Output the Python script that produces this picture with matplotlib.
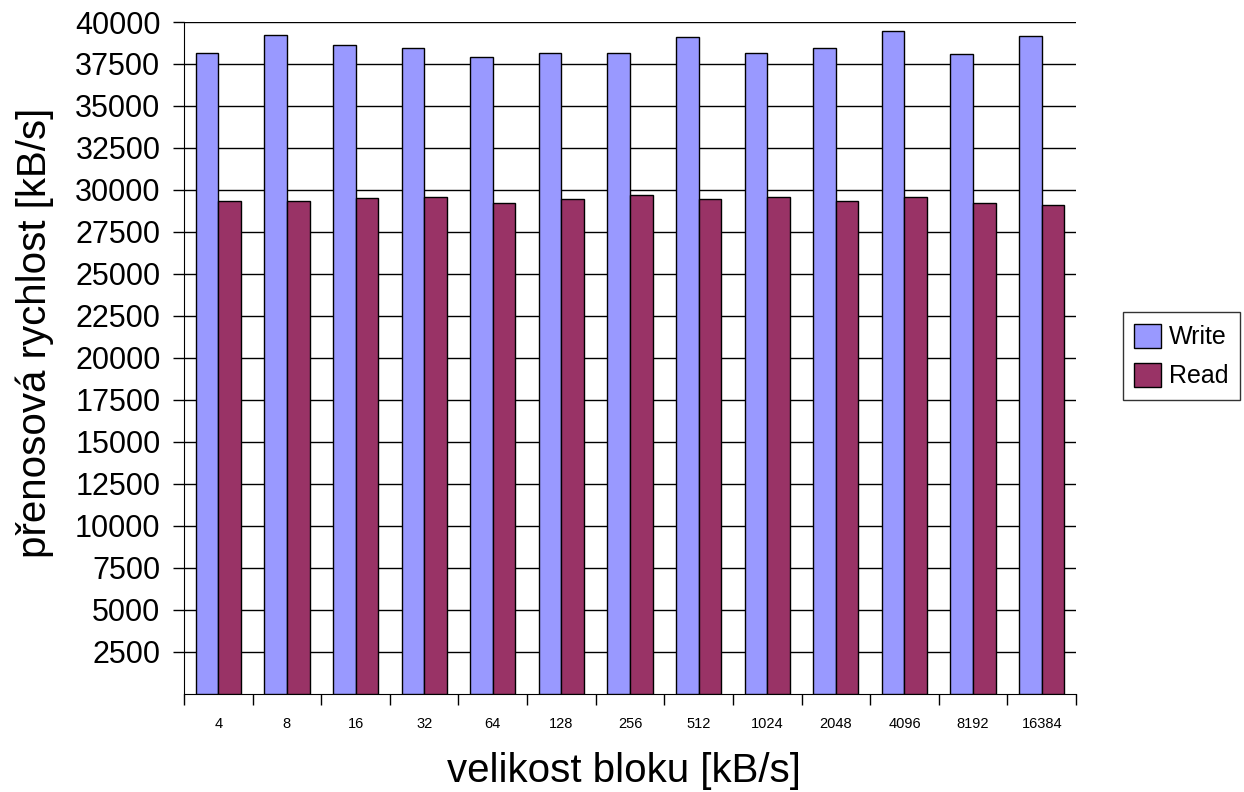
import numpy as np
import matplotlib.pyplot as plt

plt.rcParams['font.family'] = ['Liberation Sans', 'DejaVu Sans']

# block sizes and measured transfer rates
bloky = ['4', '8', '16', '32', '64', '128', '256', '512', '1024', '2048', '4096', '8192', '16384']
write = [38160, 39210, 38620, 38480, 37920, 38140, 38160, 39110, 38140, 38460, 39470, 38120, 39150]
read = [29360, 29360, 29500, 29580, 29200, 29440, 29710, 29440, 29560, 29320, 29600, 29240, 29080]

fig = plt.figure(figsize=(12.44, 7.92), dpi=100)
ax = fig.add_axes([184/1244, 1 - 693.5/792, (1076-184)/1244, (693.5-22)/792])

x = np.arange(len(bloky))
w = 0.33
ax.bar(x - w/2, write, w, color='#9999ff', edgecolor='black', linewidth=1, label='Write', zorder=3)
ax.bar(x + w/2, read, w, color='#993366', edgecolor='black', linewidth=1, label='Read', zorder=3)

ax.set_xlim(-0.5, len(bloky) - 0.5)
ax.set_ylim(0, 40000)

ax.set_yticks(np.arange(2500, 40001, 2500))
ax.grid(axis='y', color='black', linewidth=1, zorder=0)
ax.tick_params(axis='y', labelsize=22, length=8, width=1, direction='out', pad=9)

# category labels in the middle, tick marks between the groups
ax.set_xticks(x)
ax.set_xticklabels(bloky, fontsize=10.5)
ax.set_xticks(np.arange(-0.5, len(bloky)), minor=True)
ax.tick_params(axis='x', which='major', length=0, pad=17)
ax.tick_params(axis='x', which='minor', length=8, width=1, direction='out')

for s in ['top', 'right']:
    ax.spines[s].set_visible(False)

ax.set_xlabel('velikost bloku [kB/s]', fontsize=29)
ax.set_ylabel('přenosová rychlost [kB/s]', fontsize=29)
ax.xaxis.set_label_coords(0.4927, -0.087)
ax.yaxis.set_label_coords(-0.1457, 0.537)

fig.legend(loc='center', bbox_to_anchor=(1181/1244, 1 - 356/792), fontsize=18,
           frameon=True, fancybox=False, edgecolor='black', handlelength=1.1,
           handleheight=1.1, borderpad=0.45, labelspacing=0.55, handletextpad=0.3,
           borderaxespad=0)

fig.savefig('out.png', dpi=100)
